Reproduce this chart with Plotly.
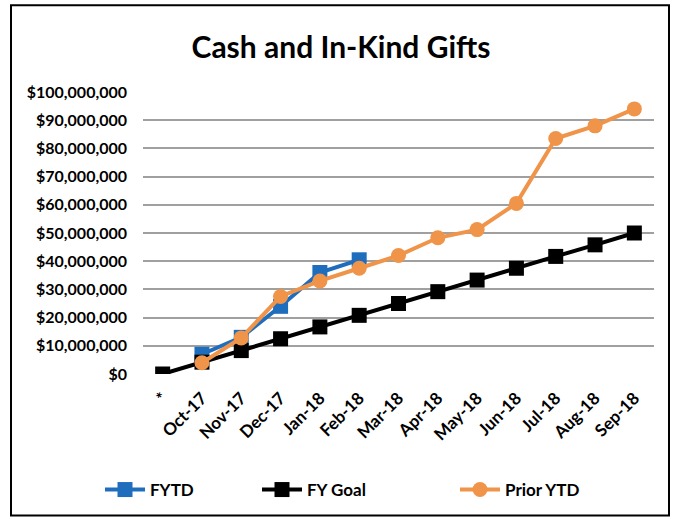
import plotly.graph_objects as go

categories = ["*", "Oct-17", "Nov-17", "Dec-17", "Jan-18", "Feb-18", "Mar-18",
              "Apr-18", "May-18", "Jun-18", "Jul-18", "Aug-18", "Sep-18"]
fytd = [None, 7000000, 13000000, 24000000, 36000000, 40500000,
        None, None, None, None, None, None, None]
fy_goal = [0, 4200000, 8300000, 12500000, 16700000, 20800000, 25000000,
           29200000, 33300000, 37500000, 41700000, 45800000, 50000000]
prior_ytd = [None, 4000000, 12800000, 27500000, 33000000, 37500000, 42000000,
             48300000, 51200000, 60500000, 83500000, 88000000, 94000000]
y_ticks = [0, 10000000, 20000000, 30000000, 40000000, 50000000,
           60000000, 70000000, 80000000, 90000000, 100000000]
y_tick_labels = ["$0", "$10,000,000", "$20,000,000", "$30,000,000", "$40,000,000",
                 "$50,000,000", "$60,000,000", "$70,000,000", "$80,000,000",
                 "$90,000,000", "$100,000,000"]

FONT = "Lato"
W, H = 675, 519
L, R, T, B = 143, 21, 92, 144

pw = W - L - R
ph = H - T - B
def px_x(p):
    return (p - L) / pw
def px_y(p):
    return (H - B - p) / ph

fig = go.Figure()
fig.add_trace(go.Scatter(x=categories, y=fytd, name="FYTD", mode="lines+markers",
                         line=dict(color="#1F6EBE", width=4),
                         marker=dict(symbol="square", size=15, color="#1F6EBE"),
                         legend="legend"))
fig.add_trace(go.Scatter(x=categories, y=fy_goal, name="FY Goal", mode="lines+markers",
                         line=dict(color="#000000", width=4),
                         marker=dict(symbol="square", size=15, color="#000000"),
                         legend="legend2"))
fig.add_trace(go.Scatter(x=categories, y=prior_ytd, name="Prior YTD", mode="lines+markers",
                         line=dict(color="#EF9448", width=4),
                         marker=dict(symbol="circle", size=15, color="#EF9448"),
                         legend="legend3"))

legend_font = dict(family=FONT, size=17, color="#000000", weight="bold")
def make_legend(xpix):
    return dict(orientation="h", x=px_x(xpix), xanchor="left", xref="paper",
                y=px_y(490), yanchor="middle", font=legend_font, itemwidth=40,
                bgcolor="rgba(0,0,0,0)")

fig.update_layout(
    width=W, height=H,
    margin=dict(l=L, r=R, t=T, b=B),
    paper_bgcolor="white", plot_bgcolor="white",
    font=dict(family=FONT, color="#000000", size=16),
    title=dict(text="<b>Cash and In-Kind Gifts</b>", x=px_x(341), xref="paper",
               xanchor="center", y=1 - 47 / H, yanchor="middle",
               font=dict(family=FONT, size=30, color="#000000")),
    xaxis=dict(type="category", range=[-0.5, 12.5], showgrid=False, zeroline=False,
               showline=False, ticks="", tickangle=-45, ticklabelstandoff=10,
               tickfont=dict(family=FONT, size=17, color="#000000", weight="bold")),
    yaxis=dict(range=[0, 100000000], tickvals=y_ticks, ticktext=y_tick_labels,
               showgrid=True, gridcolor="#A0A0A0", gridwidth=1.5, zeroline=False,
               showline=False, ticks="", ticklabelstandoff=15,
               tickfont=dict(family=FONT, size=16, color="#000000", weight="bold")),
    legend=make_legend(100),
    legend2=make_legend(257),
    legend3=make_legend(455),
    showlegend=True,
    shapes=[dict(type="rect", xref="paper", yref="paper",
                 x0=px_x(11), x1=px_x(669), y0=px_y(517), y1=px_y(5),
                 line=dict(color="#000000", width=2), fillcolor="rgba(0,0,0,0)",
                 layer="below")],
)

fig.write_html("out.html", config={"displayModeBar": False},
               post_script="document.body.style.margin='0px';document.body.style.padding='0px';")
